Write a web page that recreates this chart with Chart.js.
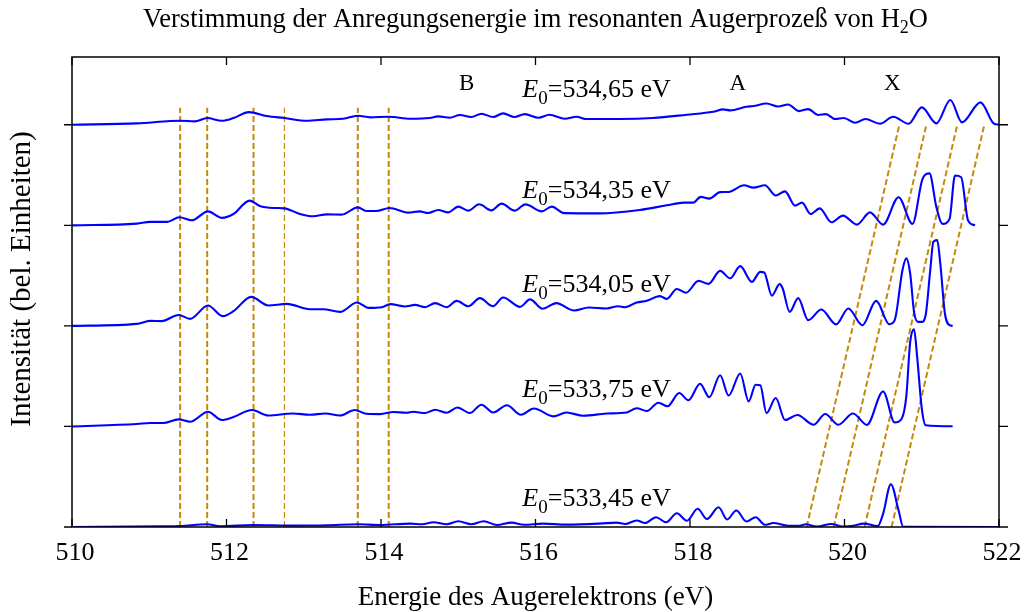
<!DOCTYPE html>
<html>
<head>
<meta charset="utf-8">
<script src="https://cdn.jsdelivr.net/npm/chart.js@4.4.1/dist/chart.umd.min.js"></script>
<style>
  html, body { margin: 0; padding: 0; background: #fff; }
  #wrap { width: 1025px; height: 612px; position: relative; }
</style>
</head>
<body>
<div id="wrap"><canvas id="c"></canvas></div>
<script>
// Auger spectra of H2O for five excitation energies, each [kinetic energy (eV), intensity]
const spec53345 = [[510.00,0],[511.14,0.007],[511.40,0.010],[511.75,0.027],[511.92,0.007],[512.35,0.020],[512.86,0.014],[513.30,0.017],[513.70,0.027],[513.99,0.020],[514.38,0.034],[514.53,0.027],[514.68,0.047],[514.85,0.027],[515.00,0.057],[515.17,0.027],[515.33,0.057],[515.50,0.020],[515.69,0.044],[515.85,0.022],[516.10,0.034],[516.40,0.024],[516.83,0.034],[517.05,0.044],[517.16,0.030],[517.31,0.065],[517.42,0.040],[517.56,0.097],[517.69,0.047],[517.83,0.136],[517.96,0.062],[518.10,0.181],[518.22,0.079],[518.37,0.196],[518.48,0.075],[518.60,0.164],[518.73,0.055],[518.85,0.097],[518.97,0.022],[519.08,0.040],[519.25,0.015],[519.42,0.012],[519.50,0.027],[519.64,0.005],[519.83,0.030],[519.98,0.005],[520.11,0.012],[520.25,0.034],[520.43,0.009],[520.50,0.133],[520.60,0.425],[520.70,0.166],[520.76,0.002],[522.00,0]];

const spec53375 = [[510.00,0],[510.84,0.024],[511.01,0.034],[511.18,0.034],[511.38,0.070],[511.53,0.047],[511.76,0.146],[511.94,0.064],[512.09,0.094],[512.33,0.163],[512.54,0.109],[512.86,0.129],[513.08,0.116],[513.28,0.129],[513.47,0.109],[513.66,0.163],[513.81,0.126],[513.99,0.123],[514.16,0.143],[514.33,0.136],[514.42,0.146],[514.57,0.133],[514.70,0.166],[514.85,0.136],[514.99,0.189],[515.15,0.133],[515.30,0.216],[515.45,0.139],[515.63,0.211],[515.81,0.116],[515.98,0.178],[516.23,0.100],[516.40,0.139],[516.62,0.106],[516.92,0.128],[517.18,0.139],[517.31,0.181],[517.44,0.153],[517.59,0.236],[517.71,0.201],[517.86,0.332],[517.98,0.260],[518.13,0.425],[518.25,0.291],[518.39,0.509],[518.50,0.307],[518.65,0.527],[518.76,0.249],[518.85,0.415],[518.91,0.410],[518.99,0.133],[519.11,0.283],[519.23,0.064],[519.39,0.114],[519.60,0.017],[519.75,0.124],[519.92,0.017],[520.11,0.129],[520.29,0.015],[520.50,0.348],[520.65,0.040],[520.74,0.077],[520.80,0.299],[520.85,0.838],[520.90,0.965],[520.94,0.697],[521.00,0.181],[521.05,0.012],[521.40,0.002]];

const spec53405 = [[510.00,0],[510.84,0.020],[511.01,0.050],[511.16,0.047],[511.38,0.109],[511.53,0.070],[511.76,0.203],[511.95,0.097],[512.09,0.146],[512.32,0.289],[512.54,0.203],[512.78,0.219],[513.08,0.166],[513.25,0.166],[513.47,0.139],[513.69,0.233],[513.84,0.179],[514.01,0.186],[514.12,0.216],[514.31,0.193],[514.44,0.209],[514.57,0.186],[514.70,0.226],[514.85,0.186],[514.98,0.249],[515.13,0.196],[515.28,0.276],[515.45,0.196],[515.58,0.283],[515.80,0.189],[515.93,0.264],[516.09,0.171],[516.27,0.226],[516.50,0.153],[516.69,0.183],[516.92,0.173],[517.07,0.196],[517.16,0.186],[517.31,0.233],[517.44,0.249],[517.61,0.296],[517.70,0.269],[517.83,0.367],[517.95,0.330],[518.11,0.448],[518.24,0.418],[518.39,0.547],[518.52,0.473],[518.65,0.594],[518.80,0.438],[518.91,0.537],[518.96,0.531],[519.06,0.300],[519.16,0.415],[519.20,0.372],[519.29,0.139],[519.40,0.276],[519.53,0.057],[519.70,0.163],[519.89,0.015],[520.05,0.173],[520.23,0.007],[520.41,0.249],[520.58,0.017],[520.65,0.057],[520.75,0.554],[520.80,0.671],[520.85,0.521],[520.90,0.139],[520.95,0.040],[521.00,0.040],[521.05,0.106],[521.11,0.554],[521.15,0.836],[521.20,0.853],[521.24,0.621],[521.30,0.123],[521.36,0.007],[521.40,0]];

const spec53435 = [[510.00,0],[510.84,0.017],[511.01,0.034],[511.23,0.034],[511.39,0.080],[511.55,0.050],[511.76,0.139],[511.94,0.074],[512.09,0.113],[512.30,0.246],[512.43,0.193],[512.61,0.173],[512.75,0.169],[512.95,0.113],[513.12,0.090],[513.30,0.109],[513.49,0.106],[513.70,0.179],[513.81,0.143],[513.94,0.143],[514.11,0.173],[514.35,0.126],[514.50,0.139],[514.61,0.123],[514.74,0.153],[514.87,0.129],[515.00,0.186],[515.13,0.146],[515.27,0.209],[515.43,0.149],[515.56,0.216],[515.73,0.146],[515.87,0.208],[516.08,0.139],[516.21,0.186],[516.37,0.121],[516.83,0.119],[517.35,0.153],[517.70,0.199],[517.92,0.226],[518.04,0.226],[518.14,0.283],[518.25,0.266],[518.39,0.330],[518.50,0.332],[518.70,0.398],[518.82,0.375],[518.97,0.398],[519.11,0.296],[519.23,0.338],[519.36,0.196],[519.45,0.226],[519.56,0.113],[519.68,0.169],[519.83,0.030],[519.98,0.097],[520.16,0.007],[520.33,0.129],[520.50,0.007],[520.70,0.279],[520.88,0.014],[521.01,0.462],[521.10,0.517],[521.19,0.179],[521.27,0.014],[521.36,0.064],[521.43,0.495],[521.51,0.478],[521.60,0.047],[521.69,0]];

const spec53465 = [[510.00,0],[510.84,0.014],[511.27,0.037],[511.40,0.040],[511.59,0.034],[511.75,0.067],[511.94,0.040],[512.09,0.067],[512.29,0.126],[512.52,0.087],[512.75,0.067],[513.04,0.040],[513.30,0.054],[513.51,0.060],[513.70,0.090],[513.86,0.074],[514.10,0.080],[514.38,0.060],[514.63,0.067],[514.74,0.084],[514.89,0.070],[515.02,0.097],[515.17,0.077],[515.30,0.110],[515.45,0.077],[515.58,0.113],[515.73,0.077],[515.86,0.106],[516.04,0.070],[516.18,0.100],[516.38,0.060],[516.53,0.080],[516.66,0.057],[517.09,0.057],[517.52,0.067],[517.96,0.100],[518.30,0.129],[518.43,0.153],[518.52,0.143],[518.73,0.179],[518.82,0.186],[518.99,0.211],[519.14,0.181],[519.27,0.201],[519.41,0.136],[519.53,0.156],[519.66,0.097],[519.76,0.106],[519.88,0.057],[519.99,0.067],[520.14,0.020],[520.27,0.057],[520.46,0.010],[520.63,0.080],[520.83,0.010],[521.00,0.173],[521.19,0.014],[521.37,0.246],[521.52,0.024],[521.76,0.223],[521.93,0.014],[522.00,0]];

// spectra from bottom to top, their vertical offsets and excitation energies
const spectra = [spec53345, spec53375, spec53405, spec53435, spec53465];
const offsets = [0, 1, 2, 3, 4];
const excitation = ['533,45', '533,75', '534,05', '534,35', '534,65'];

// fixed-energy markers (B region) and excitation-following markers (X region)
const fixedLines = [511.40, 511.75, 512.35, 512.75, 513.70, 514.10];
const fixedTop = 4.17;
const shiftLines = [519.51, 519.86, 520.26, 520.61];
const shiftPerStep = 0.3;

const xTicks = [510, 512, 514, 516, 518, 520, 522];
const bandLabels = [['B', 515.11], ['A', 518.62], ['X', 520.62]];

const serif = '"Liberation Serif", "Times New Roman", serif';
const blue = '#0000ff';
const gold = '#c48a0c';

const datasets = [];
spectra.forEach((s, i) => {
  datasets.push({
    data: s.map(([e, v]) => ({ x: e, y: v + offsets[i] })),
    borderColor: blue, borderWidth: 2.1, pointRadius: 0,
    cubicInterpolationMode: 'monotone', order: 0
  });
});
fixedLines.forEach((e, i) => {
  datasets.push({
    data: [{ x: e, y: 0 }, { x: e, y: fixedTop }],
    borderColor: gold, borderWidth: i === 3 ? 1.2 : 2, borderDash: [6, 3],
    pointRadius: 0, order: 1
  });
});
shiftLines.forEach(e => {
  const top = offsets[offsets.length - 1];
  datasets.push({
    data: [{ x: e, y: 0 }, { x: e + shiftPerStep * top, y: top }],
    borderColor: gold, borderWidth: 2, borderDash: [6, 3],
    pointRadius: 0, order: 1
  });
});

function richText(ctx, parts, x, y, align) {
  let w = 0;
  parts.forEach(p => { ctx.font = p.font; w += ctx.measureText(p.t).width; });
  let cx = align === 'center' ? x - w / 2 : (align === 'right' ? x - w : x);
  ctx.textAlign = 'left';
  parts.forEach(p => {
    ctx.font = p.font;
    ctx.fillText(p.t, cx, y + (p.dy || 0));
    cx += ctx.measureText(p.t).width;
  });
}

const decor = {
  id: 'decor',
  afterDraw(chart) {
    const { ctx, chartArea: a, scales: { x, y } } = chart;
    ctx.save();
    ctx.fillStyle = '#000';
    ctx.strokeStyle = '#000';
    // frame
    ctx.lineWidth = 1.5;
    ctx.strokeRect(a.left, a.top, a.right - a.left, a.bottom - a.top);
    // x ticks point inward, top and bottom
    ctx.lineWidth = 1.3;
    ctx.beginPath();
    xTicks.forEach(v => {
      const px = x.getPixelForValue(v);
      ctx.moveTo(px, a.bottom); ctx.lineTo(px, a.bottom - 8);
      ctx.moveTo(px, a.top); ctx.lineTo(px, a.top + 8);
    });
    // y ticks point outward at each spectrum baseline
    offsets.forEach(o => {
      const py = y.getPixelForValue(o);
      ctx.moveTo(a.left - 8, py); ctx.lineTo(a.left, py);
      ctx.moveTo(a.right, py); ctx.lineTo(a.right + 9, py);
    });
    ctx.stroke();

    ctx.textBaseline = 'alphabetic';
    // title
    const tf = '26.5px ' + serif, ts = '18px ' + serif;
    richText(ctx, [
      { t: 'Verstimmung der Anregungsenergie im resonanten Augerprozeß von H', font: tf },
      { t: '2', font: ts, dy: 6 },
      { t: 'O', font: tf }
    ], (a.left + a.right) / 2, 27, 'center');

    // axis titles
    ctx.font = '27px ' + serif;
    ctx.textAlign = 'center';
    ctx.fillText('Energie des Augerelektrons (eV)', (a.left + a.right) / 2, 605);
    ctx.save();
    ctx.translate(22, 279);
    ctx.rotate(-Math.PI / 2);
    ctx.textBaseline = 'middle';
    ctx.font = '29px ' + serif;
    ctx.fillText('Intensität (bel. Einheiten)', 0, 0);
    ctx.restore();

    // band labels
    ctx.font = '23px ' + serif;
    ctx.textAlign = 'center';
    ctx.textBaseline = 'alphabetic';
    bandLabels.forEach(([t, e]) => ctx.fillText(t, x.getPixelForValue(e), y.getPixelForValue(4.35)));

    // excitation energy labels
    const labelRise = [0.21, 0.29, 0.34, 0.27, 0.28];
    excitation.forEach((t, i) => {
      richText(ctx, [
        { t: 'E', font: 'italic 26px ' + serif },
        { t: '0', font: '19px ' + serif, dy: 7 },
        { t: '=' + t + ' eV', font: '26px ' + serif }
      ], x.getPixelForValue(515.83), y.getPixelForValue(offsets[i] + labelRise[i]), 'left');
    });
    ctx.restore();
  }
};

new Chart(document.getElementById('c'), {
  type: 'line',
  data: { datasets },
  options: {
    responsive: true, maintainAspectRatio: false, animation: false,
    devicePixelRatio: 1,
    layout: { padding: { top: 57, right: 26, left: 0, bottom: 0 } },
    plugins: { legend: { display: false }, tooltip: { enabled: false }, title: { display: false } },
    scales: {
      x: {
        type: 'linear', min: 510, max: 522,
        afterBuildTicks: s => { s.ticks = xTicks.map(v => ({ value: v })); },
        afterFit: s => { s.height = 85; s.paddingLeft = 0; s.paddingRight = 0; },
        grid: { display: false, drawTicks: false },
        border: { display: false },
        ticks: { color: '#000', font: { family: serif, size: 26 }, padding: 11, maxRotation: 0, labelOffset: 3 }
      },
      y: {
        type: 'linear', min: 0, max: 4.674,
        afterFit: s => { s.width = 72; s.paddingTop = 0; s.paddingBottom = 0; },
        grid: { display: false, drawTicks: false },
        border: { display: false },
        ticks: { display: false }
      }
    }
  },
  plugins: [decor]
});
</script>
</body>
</html>
